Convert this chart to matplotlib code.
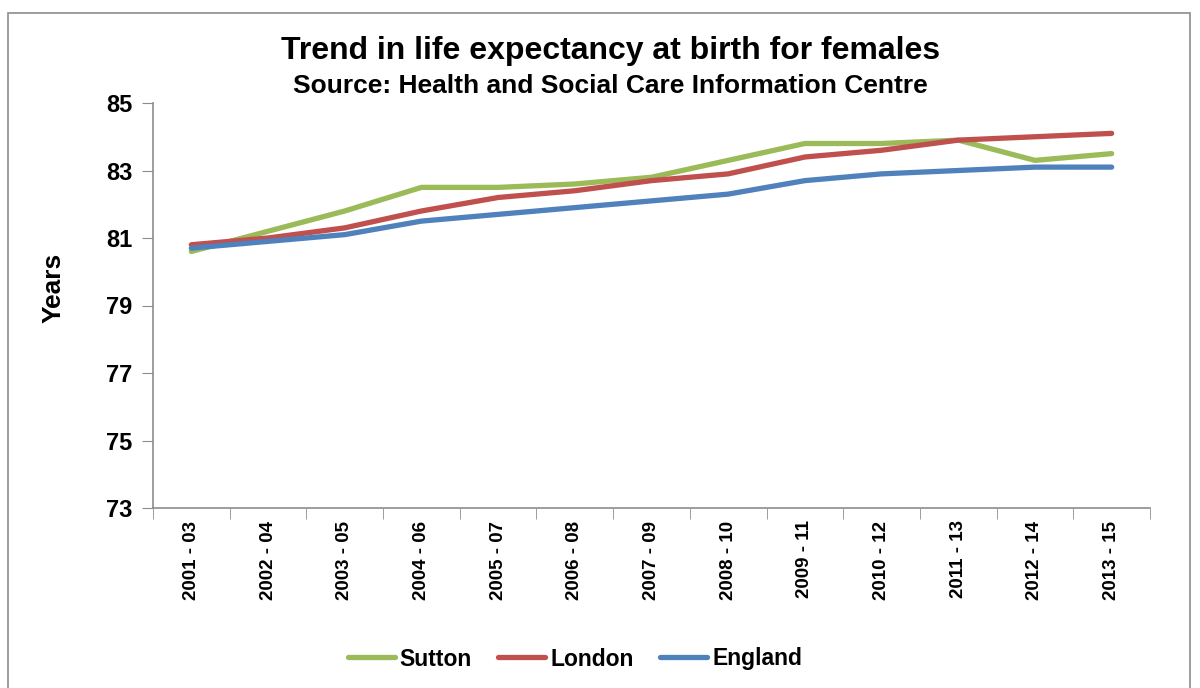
import matplotlib
matplotlib.use("Agg")
import matplotlib.pyplot as plt
from matplotlib.patches import Rectangle

plt.rcParams['font.family'] = ['Liberation Sans', 'DejaVu Sans']
plt.rcParams['font.weight'] = 'bold'

periods = ['2001 - 03', '2002 - 04', '2003 - 05', '2004 - 06', '2005 - 07',
           '2006 - 08', '2007 - 09', '2008 - 10', '2009 - 11', '2010 - 12',
           '2011 - 13', '2012 - 14', '2013 - 15']
sutton = [80.6, 81.2, 81.8, 82.5, 82.5, 82.6, 82.8, 83.3, 83.8, 83.8, 83.9, 83.3, 83.5]
london = [80.8, 81.0, 81.3, 81.8, 82.2, 82.4, 82.7, 82.9, 83.4, 83.6, 83.9, 84.0, 84.1]
england = [80.7, 80.9, 81.1, 81.5, 81.7, 81.9, 82.1, 82.3, 82.7, 82.9, 83.0, 83.1, 83.1]
y_ticks = [73, 75, 77, 79, 81, 83, 85]

fig = plt.figure(figsize=(12, 6.88), dpi=100)
# outer chart border
fig.patches.append(Rectangle((8 / 1200, -0.01), 1182 / 1200, 1 - 13 / 688 + 0.01,
                             transform=fig.transFigure, fill=False,
                             edgecolor='#8c8c8c', linewidth=1.2))

ax = fig.add_axes([153 / 1200, 1 - 508 / 688, 997 / 1200, 405 / 688])
x = list(range(len(periods)))
ax.plot(x, sutton, color='#9BBB59', linewidth=3.8, label='Sutton', solid_capstyle='round')
ax.plot(x, london, color='#C0504D', linewidth=3.8, label='London', solid_capstyle='round')
ax.plot(x, england, color='#4F81BD', linewidth=3.8, label='England', solid_capstyle='round')

ax.set_xlim(-0.5, len(periods) - 0.5)
ax.set_ylim(73, 85)
ax.set_yticks(y_ticks)
ax.set_yticklabels([str(v) for v in y_ticks], fontsize=17, fontweight='bold')
ax.set_xticks(x)
ax.set_xticklabels(periods, rotation=90, fontsize=13.5, fontweight='bold')
ax.set_xticks([i - 0.5 for i in range(len(periods) + 1)], minor=True)
ax.tick_params(axis='x', which='major', length=0, pad=9)
ax.tick_params(axis='x', which='minor', length=8, color='#8c8c8c', direction='out')
ax.tick_params(axis='y', length=8, color='#8c8c8c', direction='out', pad=7)
for s in ['top', 'right']:
    ax.spines[s].set_visible(False)
for s in ['left', 'bottom']:
    ax.spines[s].set_color('#8c8c8c')
    ax.spines[s].set_linewidth(1.2)

fig.text(54 / 1200, 1 - 288 / 688, 'Years', rotation=90, ha='center', va='center',
         fontsize=19, fontweight='bold')

fig.text(0.509, 1 - 51 / 688, 'Trend in life expectancy at birth for females',
         ha='center', va='center', fontsize=23, fontweight='bold')
fig.text(0.509, 1 - 86 / 688, 'Source: Health and Social Care Information Centre',
         ha='center', va='center', fontsize=19, fontweight='bold')

fig.legend(loc='center', bbox_to_anchor=(0.479, 1 - 659 / 688), ncol=3, frameon=False,
           prop={'size': 16.5, 'weight': 'bold'},
           handlelength=2.05, handletextpad=0.22, columnspacing=1.15)

fig.savefig('out.png', dpi=100)
